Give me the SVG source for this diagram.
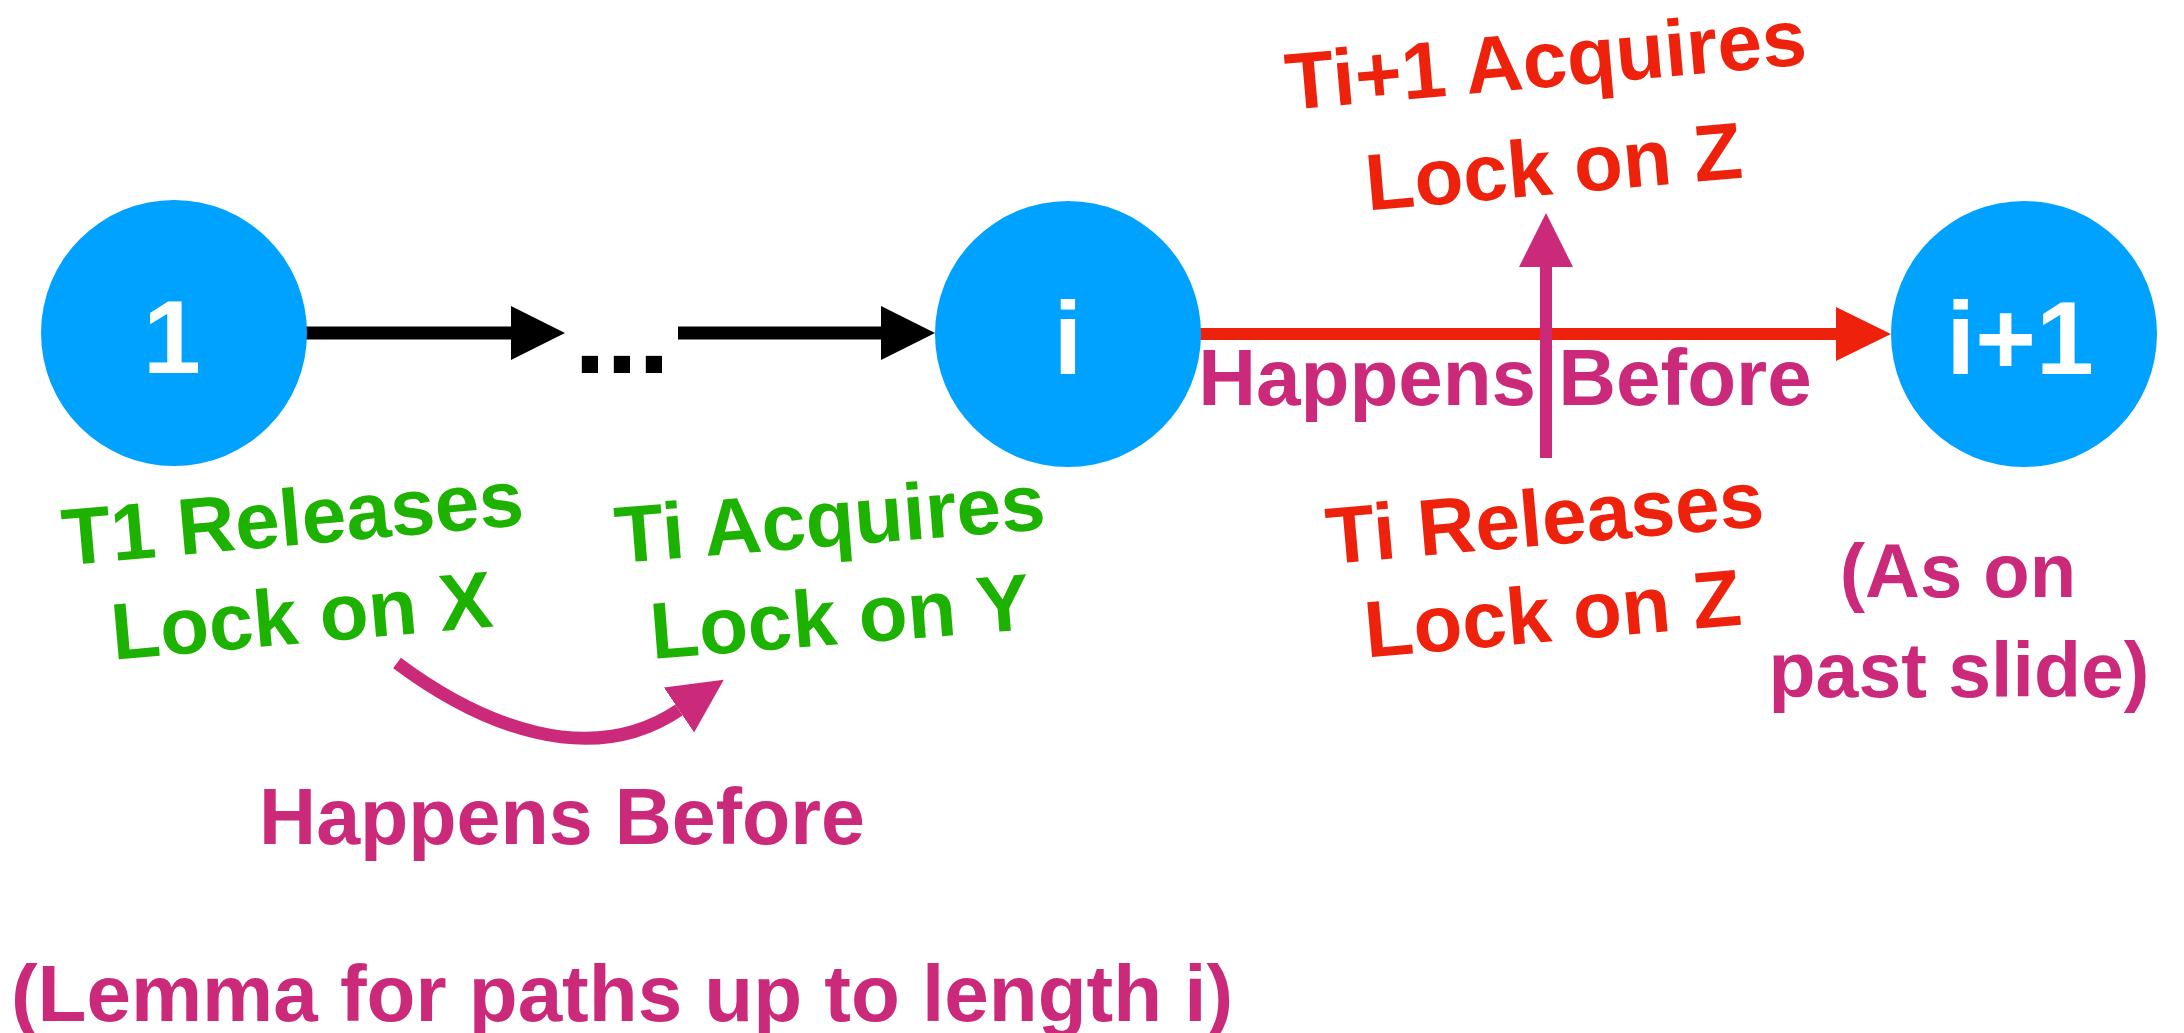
<svg xmlns="http://www.w3.org/2000/svg" width="2184" height="1033" viewBox="0 0 2184 1033">
<style>
text{font-family:"Liberation Sans",Arial,Helvetica,sans-serif;font-weight:bold;text-anchor:middle}
.node{fill:#00A2FF}
.nl{fill:#FFFFFF;font-size:104px}
.g{fill:#1DB100;font-size:80px}
.r{fill:#EE220C;font-size:80px}
.m{fill:#CB2A7B;font-size:80px}
.blk{stroke:#000000;stroke-width:13;fill:none}
.red{stroke:#EE220C;stroke-width:12;fill:none}
.mag{stroke:#CB2A7B;stroke-width:12;fill:none}
</style>
<defs>
<marker id="ahB" markerUnits="userSpaceOnUse" markerWidth="56" markerHeight="56" refX="0" refY="27" orient="auto" viewBox="0 0 56 56"><path d="M0,0 L54,27 L0,54 z" fill="#000000"/></marker>
<marker id="ahR" markerUnits="userSpaceOnUse" markerWidth="56" markerHeight="56" refX="0" refY="27" orient="auto" viewBox="0 0 56 56"><path d="M0,0 L55,27 L0,54 z" fill="#EE220C"/></marker>
<marker id="ahM" markerUnits="userSpaceOnUse" markerWidth="56" markerHeight="56" refX="0" refY="27" orient="auto" viewBox="0 0 56 56"><path d="M0,0 L54,27 L0,54 z" fill="#CB2A7B"/></marker>
</defs>
<rect width="2184" height="1033" fill="#FFFFFF"/>
<g id="connectors">
<path class="blk" d="M300,333 L511,333" marker-end="url(#ahB)"/>
<path class="blk" d="M678,333 L881,333" marker-end="url(#ahB)"/>
<path class="red" d="M1195,334 L1836,334" marker-end="url(#ahR)"/>
<path class="mag" d="M1546,458 L1546,267" marker-end="url(#ahM)"/>
<path class="mag" style="stroke-width:13" d="M397,663 C480,725 590,770 679,710" marker-end="url(#ahM)"/>
</g>
<g id="node-1">
<circle class="node" cx="174" cy="333" r="133"/>
<text class="nl" x="172" y="373">1</text>
</g>
<text x="574" y="373" style="font-size:115px;text-anchor:start;fill:#000000">...</text>
<g id="node-i">
<circle class="node" cx="1068" cy="334" r="133"/>
<text class="nl" x="1068" y="374">i</text>
</g>
<g id="node-i1">
<circle class="node" cx="2024" cy="334" r="133"/>
<text class="nl" x="2020" y="374">i+1</text>
</g>
<g id="labels">
<text class="g" x="295" y="545" transform="rotate(-5 295 545)">T1 Releases</text>
<text class="g" x="304" y="643" transform="rotate(-5 304 643)">Lock on X</text>
<text class="g" x="832" y="546" transform="rotate(-4.5 832 546)">Ti Acquires</text>
<text class="g" x="842" y="644" transform="rotate(-4.5 842 644)">Lock on Y</text>
<text class="r" x="1548" y="87" transform="rotate(-5 1548 87)">Ti+1 Acquires</text>
<text class="r" x="1556" y="194" transform="rotate(-5 1556 194)">Lock on Z</text>
<text class="r" x="1547" y="545" transform="rotate(-5 1547 545)">Ti Releases</text>
<text class="r" x="1555" y="641" transform="rotate(-5 1555 641)">Lock on Z</text>
<text class="m" x="1505" y="405">Happens Before</text>
<text class="m" x="562" y="844" style="font-size:79px">Happens Before</text>
<text class="m" x="1958" y="597" style="font-size:76px">(As on</text>
<text class="m" x="1959" y="697" style="font-size:77px">past slide)</text>
<text class="m" x="622" y="1021">(Lemma for paths up to length i)</text>
</g>
</svg>
